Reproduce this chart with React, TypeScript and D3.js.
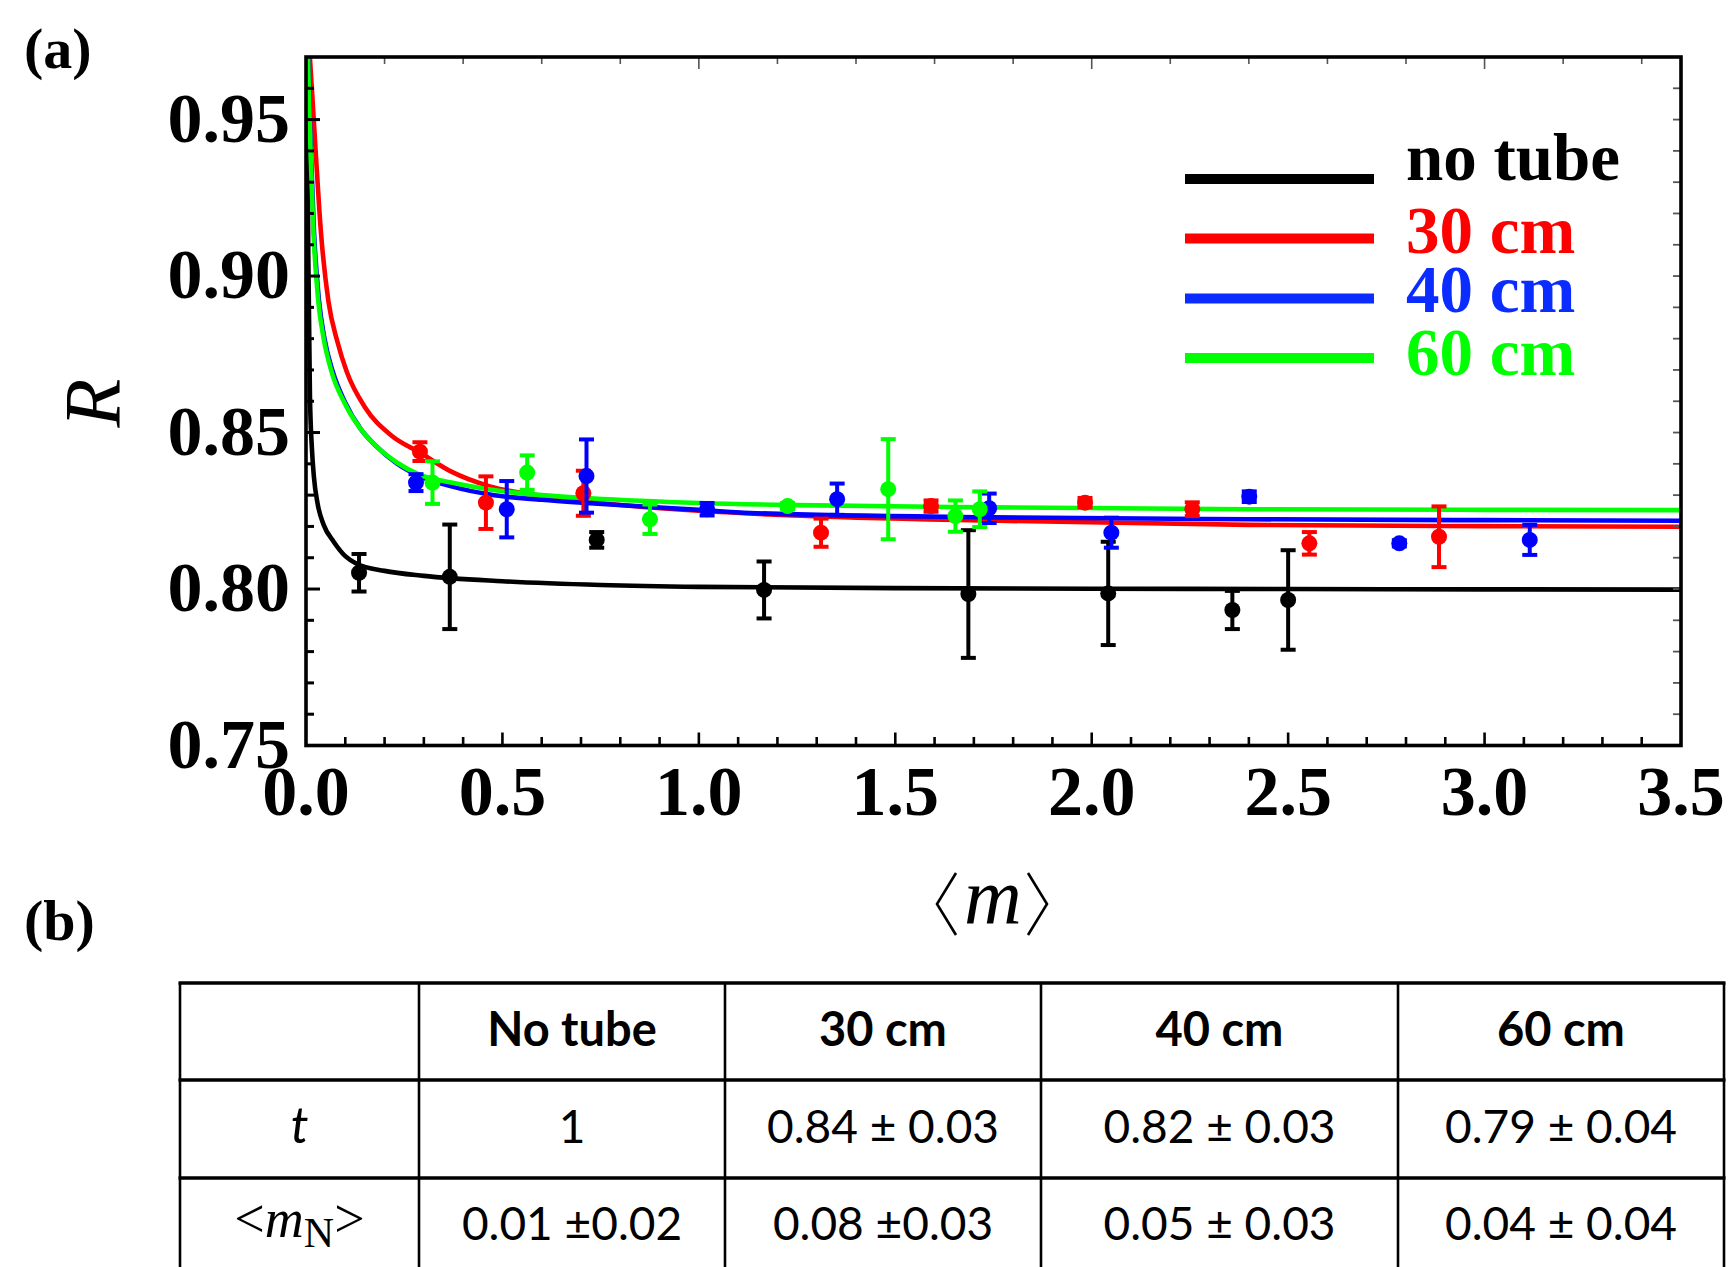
import React from 'react';
import * as d3 from 'd3';

const W = 1732;
const H = 1267;

// measured points, panel (a)
const noTubeM = [0.135, 0.366, 0.74, 1.166, 1.686, 2.042, 2.358, 2.5];
const noTubeR = [0.8052, 0.8039, 0.8157, 0.7997, 0.7984, 0.7986, 0.7933, 0.7965];
const noTubeErr = [0.006, 0.0167, 0.0025, 0.0091, 0.0204, 0.0165, 0.0061, 0.0159];

const cm30M = [0.29, 0.458, 0.706, 1.311, 1.591, 1.983, 2.256, 2.554, 2.884];
const cm30R = [0.8439, 0.8276, 0.8306, 0.818, 0.8265, 0.8276, 0.8255, 0.8146, 0.8167];
const cm30Err = [0.003, 0.0084, 0.0072, 0.0045, 0.0018, 0.0015, 0.0022, 0.0036, 0.0097];

const cm40M = [0.28, 0.511, 0.714, 1.021, 1.352, 1.739, 2.05, 2.401, 2.783, 3.115];
const cm40R = [0.834, 0.8255, 0.8361, 0.8255, 0.8287, 0.8258, 0.818, 0.8295, 0.8146, 0.8157];
const cm40Err = [0.0027, 0.009, 0.0117, 0.002, 0.005, 0.0047, 0.0048, 0.0017, 0.001, 0.0048];

const cm60M = [0.322, 0.563, 0.8755, 1.226, 1.482, 1.653, 1.715];
const cm60R = [0.834, 0.8372, 0.8223, 0.8265, 0.8319, 0.8233, 0.8255];
const cm60Err = [0.0068, 0.0055, 0.0047, 0.001, 0.016, 0.005, 0.0057];

// fitted curves
const noTubeFitM = [0.0025, 0.004, 0.006, 0.01, 0.015, 0.02, 0.03, 0.045, 0.07, 0.1, 0.13, 0.2, 0.3, 0.5, 0.75, 1, 1.5, 2, 2.5, 3, 3.5];
const noTubeFitR = [0.969, 0.94, 0.905, 0.862, 0.845, 0.836, 0.827, 0.8205, 0.8152, 0.8105, 0.808, 0.8058, 0.8042, 0.8025, 0.8013, 0.8007, 0.8003, 0.8001, 0.8, 0.7999, 0.7998];

const cm30FitM = [0.01, 0.0145, 0.0255, 0.0374, 0.057, 0.08, 0.1035, 0.15, 0.218, 0.29, 0.37, 0.468, 0.6, 0.723, 1.0, 1.223, 1.766, 2.4, 3.0, 3.5];
const cm30FitR = [0.9696, 0.9608, 0.938, 0.915, 0.892, 0.879, 0.8695, 0.8581, 0.849, 0.8436, 0.8375, 0.8328, 0.8298, 0.8278, 0.825, 0.8236, 0.8218, 0.8205, 0.8201, 0.8199];

const cm40FitM = [0.0055, 0.0085, 0.013, 0.02, 0.033, 0.047, 0.068, 0.1, 0.14, 0.18, 0.23, 0.29, 0.37, 0.468, 0.6, 0.723, 1.0, 1.13, 1.75, 2.4, 3.0, 3.5];
const cm40FitR = [0.9696, 0.955, 0.938, 0.915, 0.8923, 0.88, 0.8695, 0.8595, 0.851, 0.8455, 0.8402, 0.836, 0.8328, 0.8302, 0.8285, 0.8274, 0.8253, 0.8243, 0.8229, 0.8223, 0.822, 0.8218];

const cm60FitM = [0.005, 0.008, 0.012, 0.0187, 0.031, 0.045, 0.065, 0.1, 0.14, 0.18, 0.23, 0.29, 0.37, 0.468, 0.6, 0.723, 1.0, 1.25, 1.75, 2.4, 3.0, 3.5];
const cm60FitR = [0.9696, 0.955, 0.938, 0.915, 0.8923, 0.88, 0.8695, 0.859, 0.851, 0.8455, 0.8405, 0.8365, 0.834, 0.8318, 0.83, 0.829, 0.8275, 0.8268, 0.8261, 0.8255, 0.8253, 0.8252];

const legendLabels = ['no tube', '30 cm', '40 cm', '60 cm'];
const seriesColors = ['#000000', '#ff0000', '#0000ff', '#00ff00'];
const legendColors = ['#000000', '#ff0000', '#0a2cff', '#00ff00'];

const xTickValues = [0, 0.5, 1, 1.5, 2, 2.5, 3, 3.5];
const yTickValues = [0.75, 0.8, 0.85, 0.9, 0.95];

// panel (b) table
const tableHeader = ['No tube', '30 cm', '40 cm', '60 cm'];
const tRow = ['1', '0.84 \u00b1 0.03', '0.82 \u00b1 0.03', '0.79 \u00b1 0.04'];
const mnRow = ['0.01 \u00b10.02', '0.08 \u00b10.03', '0.05 \u00b1 0.03', '0.04 \u00b1 0.04'];

const series = [
  { m: noTubeM, r: noTubeR, err: noTubeErr, fitM: noTubeFitM, fitR: noTubeFitR },
  { m: cm30M, r: cm30R, err: cm30Err, fitM: cm30FitM, fitR: cm30FitR },
  { m: cm40M, r: cm40R, err: cm40Err, fitM: cm40FitM, fitR: cm40FitR },
  { m: cm60M, r: cm60R, err: cm60Err, fitM: cm60FitM, fitR: cm60FitR },
];

const SERIF = '"Liberation Serif", "Times New Roman", serif';
const SANS = 'Lato, "Open Sans", sans-serif';

export default function App() {
  const left = 306, right = 1681, top = 57, bottom = 745.5;

  const x = d3.scaleLinear().domain([0, 3.5]).range([left, right]);
  const y = d3.scaleLinear().domain([0.75, 0.97]).range([bottom, top]);

  const line = d3.line<[number, number]>()
    .x(d => x(d[0]))
    .y(d => y(d[1]))
    .curve(d3.curveMonotoneX);

  const leftTicks = d3.range(75, 97).map(i => ({ v: i / 100, major: i % 5 === 0 }));
  const rightTicks = d3.range(76, 97).map(i => i / 100);
  const bottomTicks = d3.range(1, 35).map(i => ({ v: i / 10, major: i % 5 === 0 }));
  const topTicks = d3.range(1, 18).map(i => ({ v: i * 0.2, major: i % 5 === 0 }));

  const fmtX = d3.format('.1f');
  const fmtY = d3.format('.2f');

  // table geometry
  const colX = [180, 419, 725, 1041, 1398, 1724];
  const rowY = [983, 1080, 1178, 1276];
  const colMid = (i: number) => (colX[i] + colX[i + 1]) / 2;

  return (
    <svg width={W} height={H} style={{ position: 'absolute', left: 0, top: 0, display: 'block', background: '#fff' }}>
      <defs>
        <clipPath id="plotClip">
          <rect x={left} y={top} width={right - left} height={bottom - top} />
        </clipPath>
      </defs>

      {/* fitted curves */}
      <g clipPath="url(#plotClip)">
        {series.map((s, si) => (
          <path
            key={si}
            d={line(s.fitM.map((m, i) => [m, s.fitR[i]] as [number, number])) || ''}
            fill="none"
            stroke={seriesColors[si]}
            strokeWidth={4.6}
          />
        ))}
      </g>

      {/* data points with error bars */}
      {series.map((s, si) => (
        <g key={si} fill={seriesColors[si]} stroke={seriesColors[si]}>
          {s.m.map((m, i) => {
            const cx = x(m);
            const y1 = y(s.r[i] + s.err[i]);
            const y2 = y(s.r[i] - s.err[i]);
            return (
              <g key={i}>
                <line x1={cx} x2={cx} y1={y1} y2={y2} strokeWidth={4} />
                <line x1={cx - 7.5} x2={cx + 7.5} y1={y1} y2={y1} strokeWidth={4} />
                <line x1={cx - 7.5} x2={cx + 7.5} y1={y2} y2={y2} strokeWidth={4} />
                <circle cx={cx} cy={y(s.r[i])} r={8} stroke="none" />
              </g>
            );
          })}
        </g>
      ))}

      {/* ticks */}
      <g stroke="#000">
        {leftTicks.map(t => (
          <line key={'l' + t.v} x1={left} x2={left + (t.major ? 14 : 8)} y1={y(t.v)} y2={y(t.v)} strokeWidth={3} />
        ))}
        {bottomTicks.map(t => (
          <line key={'b' + t.v} x1={x(t.v)} x2={x(t.v)} y1={bottom} y2={bottom - (t.major ? 13 : 8.5)} strokeWidth={2.6} />
        ))}
      </g>
      <g stroke="#555">
        {rightTicks.map(v => (
          <line key={'r' + v} x1={right} x2={right - 8} y1={y(v)} y2={y(v)} strokeWidth={1.8} />
        ))}
        {topTicks.map(t => (
          <line key={'t' + t.v} x1={x(t.v)} x2={x(t.v)} y1={top} y2={top + (t.major ? 12 : 7)} strokeWidth={1.6} />
        ))}
      </g>

      {/* frame */}
      <rect x={left} y={top} width={right - left} height={bottom - top} fill="none" stroke="#000" strokeWidth={3.6} />

      {/* tick labels */}
      <g fontFamily={SERIF} fontWeight="bold" fontSize={70} fill="#000">
        {yTickValues.map(v => (
          <text key={'yl' + v} x={290} y={y(v) + 22} textAnchor="end">{fmtY(v)}</text>
        ))}
        {xTickValues.map(v => (
          <text key={'xl' + v} x={x(v)} y={815} textAnchor="middle">{fmtX(v)}</text>
        ))}
      </g>

      {/* axis titles */}
      <text
        transform="translate(120,403) rotate(-90)"
        textAnchor="middle"
        fontFamily={SERIF}
        fontStyle="italic"
        fontSize={80}
      >R</text>
      <g stroke="#000" strokeWidth={2.6} fill="none">
        <polyline points="956,873 937,904 956,935" />
        <polyline points="1028,873 1047,904 1028,935" />
      </g>
      <text x={993} y={923} textAnchor="middle" fontFamily={SERIF} fontStyle="italic" fontSize={80}>m</text>

      {/* legend */}
      {legendLabels.map((lab, i) => {
        const ly = [179, 238.5, 298.5, 358][i];
        const ty = [180, 253, 312, 375][i];
        return (
          <g key={lab}>
            <line x1={1185} x2={1374} y1={ly} y2={ly} stroke={legendColors[i]} strokeWidth={10} />
            <text x={1406} y={ty} fill={legendColors[i]} fontFamily={SERIF} fontWeight="bold" fontSize={67}>{lab}</text>
          </g>
        );
      })}

      {/* panel labels */}
      <text x={24} y={68} fontFamily={SERIF} fontWeight="bold" fontSize={58}>(a)</text>
      <text x={24} y={940} fontFamily={SERIF} fontWeight="bold" fontSize={58}>(b)</text>

      {/* table */}
      <g stroke="#000">
        {rowY.map((ry, i) => (
          <line key={'h' + i} x1={colX[0] - 1.5} x2={colX[5] + 1.5} y1={ry} y2={ry} strokeWidth={3.4} />
        ))}
        {colX.map((cx, i) => (
          <line key={'v' + i} x1={cx} x2={cx} y1={rowY[0]} y2={rowY[3]} strokeWidth={2.6} />
        ))}
      </g>
      <g fontFamily={SANS} fill="#000" textAnchor="middle">
        {tableHeader.map((h, i) => (
          <text key={'th' + i} x={colMid(i + 1)} y={1046} fontWeight="bold" fontSize={47}>{h}</text>
        ))}
        <text x={colMid(0)} y={1143} fontStyle="italic" fontSize={50}>t</text>
        {tRow.map((v, i) => (
          <text key={'tr' + i} x={colMid(i + 1)} y={1143} fontSize={46}>{v}</text>
        ))}
        {mnRow.map((v, i) => (
          <text key={'mr' + i} x={colMid(i + 1)} y={1240} fontSize={46}>{v}</text>
        ))}
      </g>
      <text x={colMid(0)} y={1237} textAnchor="middle" fontFamily={SERIF} fontSize={54}>
        &lt;<tspan fontStyle="italic">m</tspan><tspan fontSize={42} dy={10}>N</tspan><tspan dy={-10}>&gt;</tspan>
      </text>
    </svg>
  );
}
